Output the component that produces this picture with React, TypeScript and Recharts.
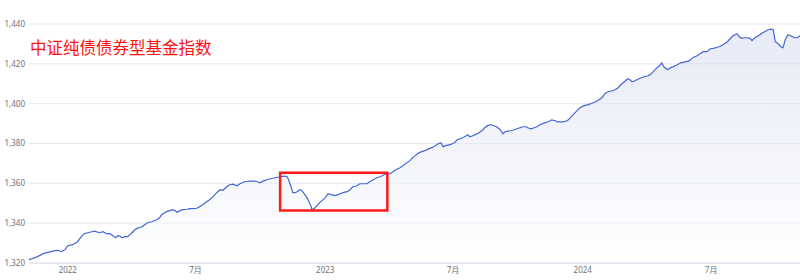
import { AreaChart, Area, XAxis, YAxis, CartesianGrid, ReferenceArea } from "recharts";

const dates = [
  "2021-11-07", "2021-11-12", "2021-11-19", "2021-11-27", "2021-12-02", "2021-12-08", "2021-12-14", "2021-12-18", "2021-12-23", "2021-12-28",
  "2022-01-01", "2022-01-08", "2022-01-15", "2022-01-19", "2022-01-24", "2022-01-29", "2022-02-04", "2022-02-08", "2022-02-15", "2022-02-20",
  "2022-02-25", "2022-03-02", "2022-03-06", "2022-03-10", "2022-03-13", "2022-03-16", "2022-03-19", "2022-03-23", "2022-03-27", "2022-04-02",
  "2022-04-06", "2022-04-10", "2022-04-16", "2022-04-20", "2022-04-24", "2022-04-30", "2022-05-07", "2022-05-11", "2022-05-14", "2022-05-19",
  "2022-05-21", "2022-05-26", "2022-05-29", "2022-06-02", "2022-06-05", "2022-06-09", "2022-06-13", "2022-06-19", "2022-06-23", "2022-06-27",
  "2022-07-03", "2022-07-07", "2022-07-11", "2022-07-17", "2022-07-21", "2022-07-26", "2022-07-31", "2022-08-05", "2022-08-09", "2022-08-13",
  "2022-08-16", "2022-08-19", "2022-08-23", "2022-08-29", "2022-09-02", "2022-09-05", "2022-09-09", "2022-09-16", "2022-09-23", "2022-09-27",
  "2022-09-30", "2022-10-05", "2022-10-10", "2022-10-15", "2022-10-22", "2022-10-29", "2022-11-03", "2022-11-08", "2022-11-10", "2022-11-13",
  "2022-11-16", "2022-11-19", "2022-11-22", "2022-11-26", "2022-11-29", "2022-12-02", "2022-12-06", "2022-12-09", "2022-12-12", "2022-12-13",
  "2022-12-16", "2022-12-19", "2022-12-24", "2022-12-29", "2023-01-01", "2023-01-05", "2023-01-09", "2023-01-15", "2023-01-19", "2023-01-22",
  "2023-01-26", "2023-02-01", "2023-02-05", "2023-02-09", "2023-02-15", "2023-02-19", "2023-02-25", "2023-03-01", "2023-03-05", "2023-03-10",
  "2023-03-15", "2023-03-20", "2023-03-25", "2023-03-29", "2023-04-03", "2023-04-07", "2023-04-11", "2023-04-17", "2023-04-21", "2023-04-27",
  "2023-05-01", "2023-05-05", "2023-05-10", "2023-05-14", "2023-05-18", "2023-05-22", "2023-05-28", "2023-06-01", "2023-06-06", "2023-06-10",
  "2023-06-14", "2023-06-17", "2023-06-21", "2023-06-27", "2023-07-03", "2023-07-07", "2023-07-11", "2023-07-15", "2023-07-20", "2023-07-22",
  "2023-07-25", "2023-07-29", "2023-08-03", "2023-08-07", "2023-08-11", "2023-08-15", "2023-08-20", "2023-08-24", "2023-08-28", "2023-09-01",
  "2023-09-06", "2023-09-10", "2023-09-13", "2023-09-17", "2023-09-21", "2023-09-26", "2023-09-30", "2023-10-04", "2023-10-08", "2023-10-13",
  "2023-10-15", "2023-10-20", "2023-10-24", "2023-10-28", "2023-11-01", "2023-11-07", "2023-11-13", "2023-11-18", "2023-11-23", "2023-11-26",
  "2023-11-30", "2023-12-04", "2023-12-10", "2023-12-14", "2023-12-18", "2023-12-24", "2023-12-28", "2024-01-03", "2024-01-09", "2024-01-14",
  "2024-01-19", "2024-01-24", "2024-01-28", "2024-02-02", "2024-02-06", "2024-02-12", "2024-02-16", "2024-02-20", "2024-02-24", "2024-02-29",
  "2024-03-05", "2024-03-08", "2024-03-11", "2024-03-15", "2024-03-19", "2024-03-24", "2024-03-28", "2024-04-03", "2024-04-07", "2024-04-11",
  "2024-04-15", "2024-04-20", "2024-04-22", "2024-04-25", "2024-04-30", "2024-05-04", "2024-05-08", "2024-05-14", "2024-05-19", "2024-05-25",
  "2024-05-31", "2024-06-05", "2024-06-11", "2024-06-15", "2024-06-20", "2024-06-25", "2024-06-30", "2024-07-04", "2024-07-08", "2024-07-14",
  "2024-07-18", "2024-07-24", "2024-07-28", "2024-08-01", "2024-08-07", "2024-08-10", "2024-08-13", "2024-08-17", "2024-08-21", "2024-08-25",
  "2024-08-28", "2024-09-01", "2024-09-06", "2024-09-11", "2024-09-16", "2024-09-20", "2024-09-24", "2024-09-27", "2024-09-30", "2024-10-04",
  "2024-10-08", "2024-10-11", "2024-10-14", "2024-10-18", "2024-10-22", "2024-10-27", "2024-10-31", "2024-11-04",
];

const values = [
  1321.7, 1322.2, 1323.2, 1324.7, 1325.2, 1325.7, 1326.2, 1326.4, 1325.7, 1326.7,
  1328.7, 1329.2, 1330.7, 1332.7, 1334.7, 1335.2, 1335.7, 1336.0, 1335.2, 1335.7,
  1334.7, 1334.7, 1333.7, 1332.7, 1333.7, 1333.5, 1332.7, 1333.2, 1333.2, 1335.2,
  1336.7, 1337.5, 1338.2, 1339.2, 1340.2, 1340.7, 1341.7, 1342.7, 1344.2, 1345.3,
  1345.8, 1346.3, 1346.8, 1346.3, 1345.5, 1346.3, 1346.8, 1347.0, 1347.3, 1347.3,
  1347.5, 1348.3, 1349.3, 1350.8, 1351.8, 1353.3, 1355.3, 1356.8, 1356.5, 1357.8,
  1358.8, 1359.3, 1359.6, 1358.8, 1359.8, 1360.3, 1360.8, 1361.1, 1361.1, 1360.8,
  1360.3, 1361.1, 1361.8, 1362.3, 1362.8, 1363.3, 1363.6, 1363.3, 1361.8, 1358.8,
  1355.3, 1355.3, 1355.8, 1356.8, 1356.3, 1354.8, 1352.8, 1350.8, 1348.3, 1346.8,
  1347.3, 1348.3, 1350.3, 1351.8, 1352.8, 1354.8, 1354.3, 1353.8, 1354.3, 1354.8,
  1355.3, 1355.8, 1356.8, 1358.3, 1358.8, 1359.8, 1359.8, 1359.8, 1360.8, 1361.8,
  1362.8, 1363.3, 1364.3, 1364.8, 1364.8, 1365.8, 1366.8, 1367.8, 1368.8, 1370.4,
  1371.4, 1372.9, 1374.4, 1375.4, 1375.9, 1376.4, 1377.4, 1377.9, 1378.9, 1379.9,
  1380.4, 1378.4, 1378.9, 1379.4, 1380.4, 1381.9, 1382.4, 1382.9, 1383.9, 1384.4,
  1383.4, 1383.9, 1384.7, 1385.4, 1386.4, 1387.9, 1389.2, 1389.4, 1388.9, 1388.4,
  1386.9, 1384.9, 1385.9, 1386.2, 1386.4, 1386.9, 1387.4, 1387.9, 1388.4, 1388.4,
  1387.9, 1387.4, 1387.9, 1388.4, 1389.4, 1390.2, 1390.9, 1391.9, 1391.4, 1390.9,
  1390.9, 1390.9, 1391.4, 1392.7, 1394.4, 1396.5, 1398.0, 1399.0, 1399.5, 1400.2,
  1401.0, 1402.0, 1403.0, 1405.2, 1406.0, 1406.5, 1407.0, 1408.0, 1409.5, 1411.0,
  1412.5, 1412.0, 1411.0, 1411.5, 1412.3, 1413.0, 1413.5, 1414.0, 1415.0, 1416.5,
  1418.0, 1419.5, 1420.5, 1418.5, 1417.0, 1418.0, 1418.5, 1419.5, 1420.5, 1421.0,
  1421.5, 1423.1, 1424.1, 1425.1, 1426.1, 1426.1, 1427.6, 1427.8, 1428.1, 1428.8,
  1429.6, 1431.1, 1432.6, 1434.1, 1435.1, 1433.6, 1432.8, 1433.1, 1433.1, 1432.8,
  1431.6, 1433.1, 1434.1, 1435.4, 1436.4, 1437.1, 1437.4, 1437.1, 1431.1, 1430.1,
  1428.6, 1428.1, 1432.1, 1434.6, 1434.1, 1433.1, 1433.1, 1434.1,
];

const xTicks = ["2022-01-01", "2022-07-01", "2023-01-01", "2023-07-01", "2024-01-01", "2024-07-01"];
const yTicks = [1320, 1340, 1360, 1380, 1400, 1420, 1440];

// highlighted drawdown window
const boxDates = ["2022-10-29", "2023-03-30"];
const boxValues = [1346.3, 1365.3];

const title = "中证纯债债券型基金指数";

const data = dates.map((d, i) => ({ t: Date.parse(d), v: values[i] }));

const fmtDate = (t: number) => {
  const d = new Date(t);
  return d.getUTCMonth() === 0 ? String(d.getUTCFullYear()) : `${d.getUTCMonth() + 1}月`;
};

export default function App() {
  return (
    <div style={{
      position: "absolute", left: 0, top: 0, width: 800, height: 280, background: "#fff",
      fontFamily: '"Noto Sans", "Noto Sans CJK SC", sans-serif',
    }}>
      <AreaChart width={800} height={280} data={data} margin={{ top: 24, right: 0, bottom: 0, left: 0 }}>
        <defs>
          <linearGradient id="fillGrad" x1="0" y1="0" x2="0" y2="1">
            <stop offset="0%" stopColor="#cfd7ec" stopOpacity={0.85} />
            <stop offset="100%" stopColor="#ffffff" stopOpacity={0.9} />
          </linearGradient>
        </defs>
        <CartesianGrid vertical={false} stroke="#e3e7f0" />
        <XAxis
          dataKey="t" type="number" scale="time" domain={["dataMin", "dataMax"]}
          ticks={xTicks.map((d) => Date.parse(d))} tickFormatter={fmtDate}
          axisLine={{ stroke: "#d8dce5" }} tickLine={false} tickSize={3} tickMargin={1}
          tick={{ fill: "#6e7079", fontSize: 8 }} height={17}
        />
        <YAxis
          type="number" domain={[1320, 1440]} ticks={yTicks}
          tickFormatter={(v: number) => v.toLocaleString("en-US")}
          axisLine={false} tickLine={false} tickSize={4} tickMargin={0}
          tick={{ fill: "#6e7079", fontSize: 8 }} width={29}
        />
        <Area
          type="linear" dataKey="v" stroke="#4466d4" strokeWidth={1.2}
          fill="url(#fillGrad)" dot={false} isAnimationActive={false}
        />
        <ReferenceArea
          x1={Date.parse(boxDates[0])} x2={Date.parse(boxDates[1])}
          y1={boxValues[0]} y2={boxValues[1]}
          fill="none" stroke="#ff1a1a" strokeWidth={2.5} strokeOpacity={1}
        />
      </AreaChart>
      <div style={{
        position: "absolute", left: 30, top: 37, fontSize: 16.5, lineHeight: "20px",
        color: "#ff1010", fontFamily: '"Noto Sans CJK SC", sans-serif',
      }}>
        {title}
      </div>
    </div>
  );
}
